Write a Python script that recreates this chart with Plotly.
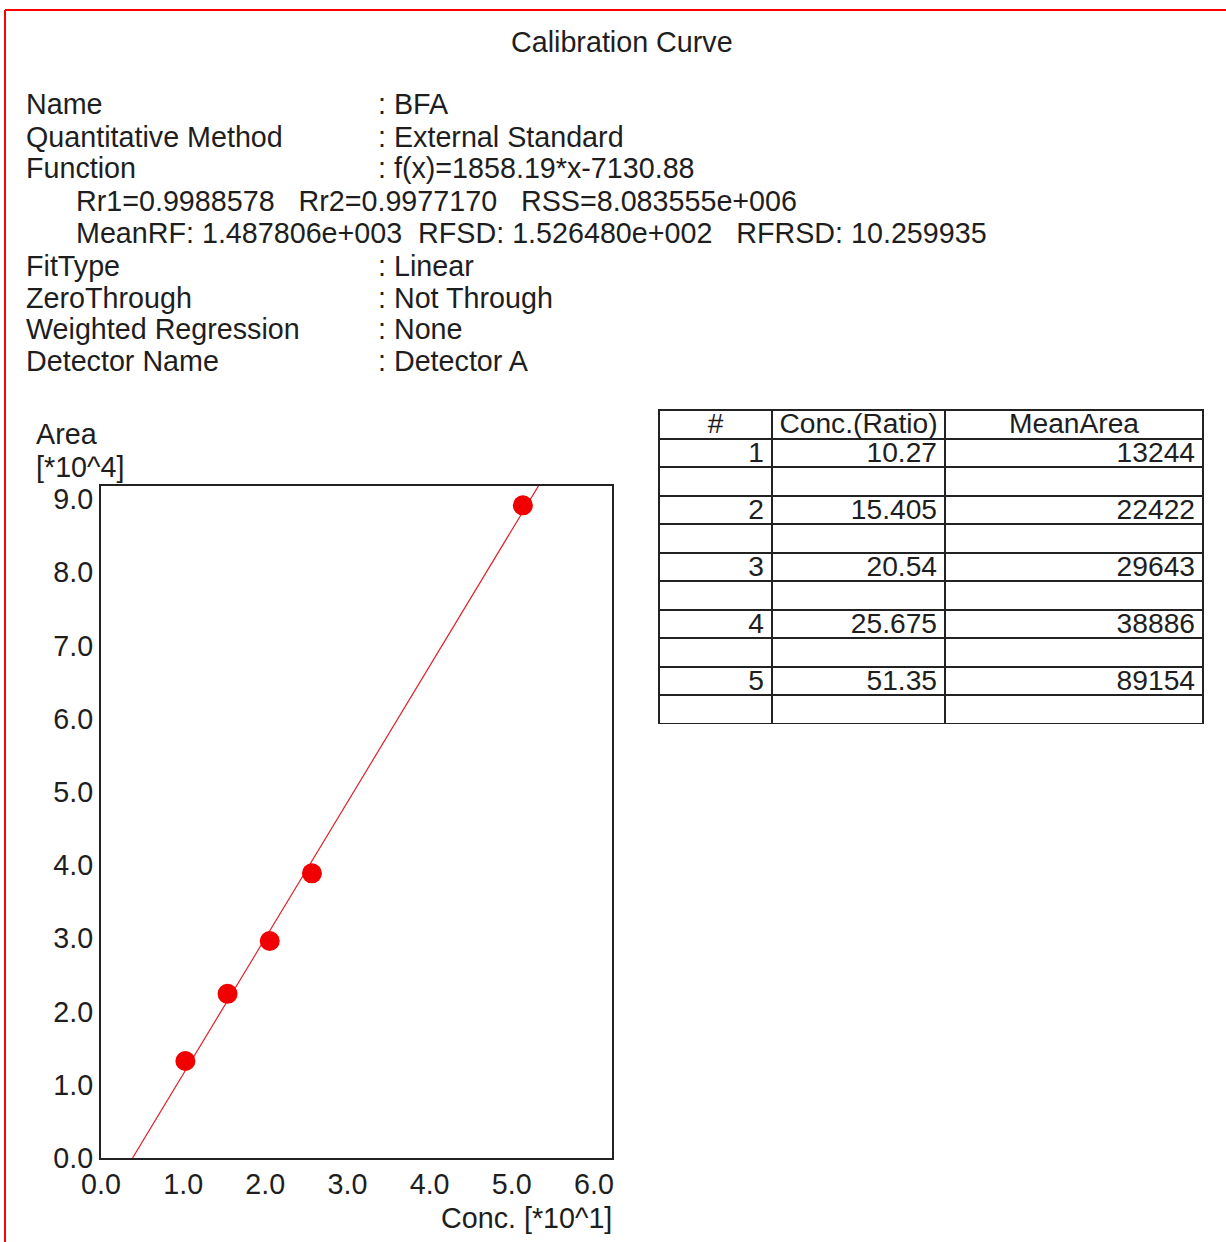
import plotly.graph_objects as go

W, H = 1226, 1242

# ---- data ----
sample_no = ["1", "2", "3", "4", "5"]
conc = [10.27, 15.405, 20.54, 25.675, 51.35]          # Conc.(Ratio)
mean_area = [13244, 22422, 29643, 38886, 89154]         # MeanArea
table_header = ["#", "Conc.(Ratio)", "MeanArea"]
slope, intercept = 1858.19, -7130.88
x_scale, y_scale = 10.0, 1e4                            # axis units [*10^1], [*10^4]
x_ticks = [0, 1, 2, 3, 4, 5, 6]
y_ticks = [0, 1, 2, 3, 4, 5, 6, 7, 8, 9]

info_labels = ["Name", "Quantitative Method", "Function"]
info_values = [": BFA", ": External Standard", ": f(x)=1858.19*x-7130.88"]
stat_lines = ["Rr1=0.9988578   Rr2=0.9977170   RSS=8.083555e+006",
              "MeanRF: 1.487806e+003  RFSD: 1.526480e+002   RFRSD: 10.259935"]
info_labels2 = ["FitType", "ZeroThrough", "Weighted Regression", "Detector Name"]
info_values2 = [": Linear", ": Not Through", ": None", ": Detector A"]

FONT = "Liberation Sans, Arial, sans-serif"
TXT = "#1e1e1e"
FS = 28.7
TFS = 28.2
CLEAR = "rgba(0,0,0,0)"


def px(x):
    return x / W


def py(y):
    return 1 - y / H


fig = go.Figure()

# fit line
x0 = -intercept / slope
x1 = 60.0
fx = [x0 / x_scale, x1 / x_scale]
fy = [(slope * v + intercept) / y_scale for v in [x0, x1]]
fig.add_trace(go.Scatter(x=fx, y=fy, mode="lines",
                         line=dict(color="#e02028", width=1.2),
                         hoverinfo="skip", showlegend=False))
# points
fig.add_trace(go.Scatter(x=[c / x_scale for c in conc],
                         y=[a / y_scale for a in mean_area],
                         mode="markers",
                         marker=dict(color="#f00000", size=20),
                         showlegend=False))

# table rows (value row followed by a blank row)
rows_no, rows_conc, rows_area = [], [], []
for n, c, a in zip(sample_no, conc, mean_area):
    rows_no += [n, ""]
    rows_conc += [f"{c:g}", ""]
    rows_area += [str(a), ""]
blank = [[""] * len(rows_no) for _ in range(3)]
COLW = [113, 173, 258]
RH = 28.5

# grid (lines only)
fig.add_trace(go.Table(
    domain=dict(x=[px(659), px(1203)], y=[py(724), py(410)]),
    columnwidth=COLW,
    header=dict(values=["", "", ""], height=RH,
                line=dict(color="#222", width=2), fill=dict(color="white"),
                font=dict(family=FONT, size=TFS, color=TXT)),
    cells=dict(values=blank, height=RH,
               line=dict(color="#222", width=2), fill=dict(color="white"),
               font=dict(family=FONT, size=TFS, color=TXT)),
))
# text overlay (transparent lines, slightly raised)
SH = 6
fig.add_trace(go.Table(
    domain=dict(x=[px(659), px(1203)], y=[py(724 - SH), py(410 - SH)]),
    columnwidth=COLW,
    header=dict(values=table_header, align="center", height=RH,
                line=dict(color=CLEAR, width=0), fill=dict(color=CLEAR),
                font=dict(family=FONT, size=TFS, color=TXT)),
    cells=dict(values=[rows_no, rows_conc, rows_area], align="right", height=RH,
               line=dict(color=CLEAR, width=0), fill=dict(color=CLEAR),
               font=dict(family=FONT, size=TFS, color=TXT)),
))

ann = []


def text(x, y, s, anchor="left"):
    ann.append(dict(x=px(x), y=py(y), xref="paper", yref="paper", text=s,
                    showarrow=False, xanchor=anchor, yanchor="middle",
                    font=dict(family=FONT, size=FS, color=TXT)))


text(622, 42, "Calibration Curve", "center")
ys1 = [104, 137, 168]
for lab, val, y in zip(info_labels, info_values, ys1):
    text(24, y, lab)
    text(376, y, val)
for s, y in zip(stat_lines, [201, 233]):
    text(74, y, s)
ys2 = [266, 298, 329, 361]
for lab, val, y in zip(info_labels2, info_values2, ys2):
    text(24, y, lab)
    text(376, y, val)
text(34, 434, "Area")
text(34, 467, "[*10^4]")
text(614, 1218, "Conc. [*10^1]", "right")

shapes = [
    dict(type="line", xref="paper", yref="paper", x0=px(5), x1=1, y0=py(10), y1=py(10),
         line=dict(color="#ff0000", width=2)),
    dict(type="line", xref="paper", yref="paper", x0=px(5), x1=px(5), y0=py(10), y1=0,
         line=dict(color="#ff0000", width=2)),
]

fig.update_layout(
    width=W, height=H, margin=dict(l=0, r=0, t=0, b=0),
    paper_bgcolor="white", plot_bgcolor="white",
    annotations=ann, shapes=shapes, showlegend=False,
    font=dict(family=FONT, size=FS, color=TXT),
    xaxis=dict(domain=[px(101), px(612)], range=[0, 6.22], tickvals=x_ticks,
               ticktext=[f"{v:.1f}" for v in x_ticks], showgrid=False, zeroline=False,
               showline=True, mirror=True, linecolor="#222", linewidth=2,
               ticks="", automargin=False, tickfont=dict(size=FS, family=FONT, color=TXT)),
    yaxis=dict(domain=[py(1158), py(486)], range=[0, 9.18], tickvals=y_ticks,
               ticktext=[f"{v:.1f}" for v in y_ticks], showgrid=False, zeroline=False,
               showline=True, mirror=True, linecolor="#222", linewidth=2,
               ticks="", automargin=False, tickfont=dict(size=FS, family=FONT, color=TXT)),
)

fig.write_html("out.html")
